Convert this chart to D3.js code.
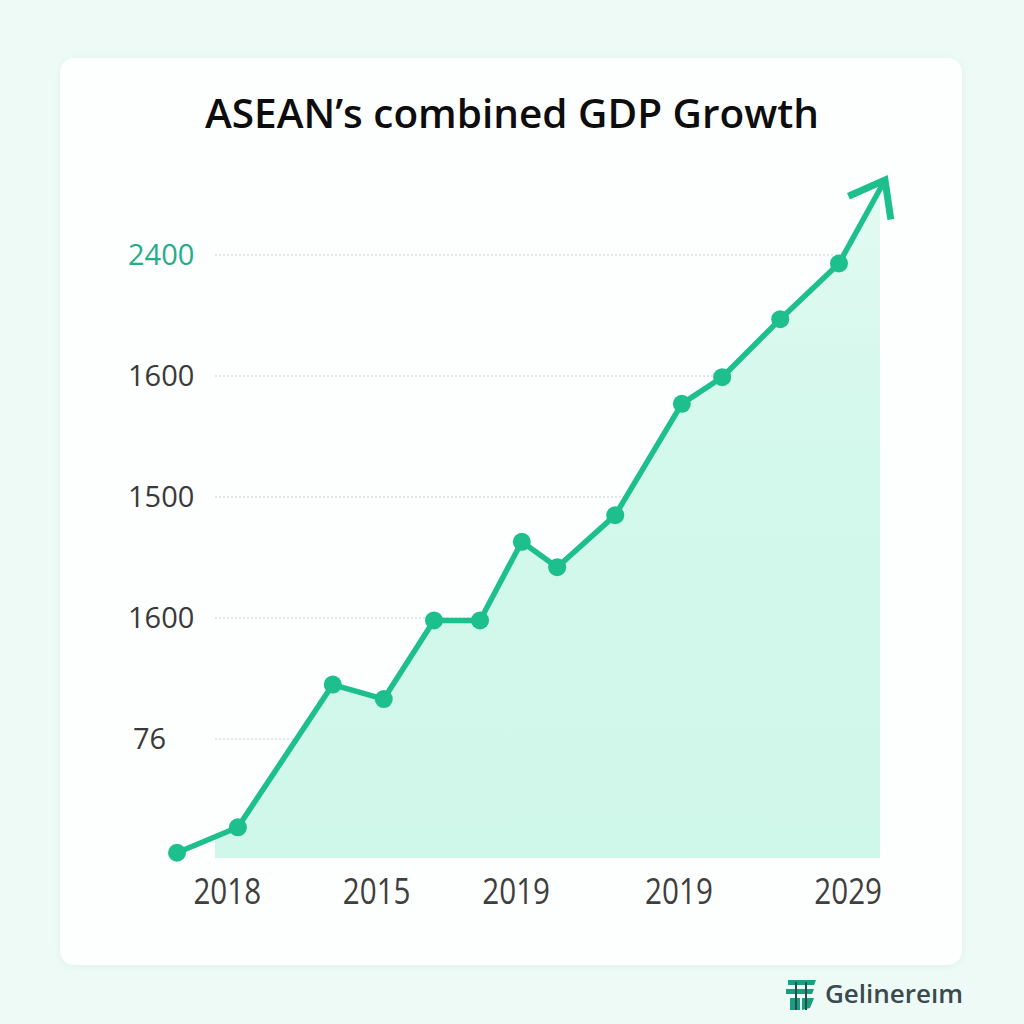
<!DOCTYPE html>
<html><head><meta charset="utf-8">
<script src="https://cdn.jsdelivr.net/npm/d3@7"></script>
<style>
html,body{margin:0;padding:0;background:#eefaf5;}
svg{display:block;}
</style></head>
<body>
<svg id="chart" width="1024" height="1024"></svg>
<script>
// ---- data ----
const title = "ASEAN\u2019s combined GDP Growth";
const pointPos = [0, 8.6, 22.0, 29.2, 36.3, 42.8, 48.7, 53.7, 61.9, 71.3, 77.0, 85.2, 93.5];
const gdpValues = [30, 135, 725, 665, 990, 990, 1315, 1210, 1425, 1885, 1995, 2235, 2465];
const arrowEnd = {pos: 100, value: 2810};
const yTickValues = [500, 1000, 1500, 2000, 2500];
const yTickLabels = ["76", "1600", "1500", "1600", "2400"];
const xTickPos = [7.1, 28.2, 47.9, 70.9, 94.8];
const xTickLabels = ["2018", "2015", "2019", "2019", "2029"];
const brand = "Gelinere\u0131m";

// ---- setup ----
const svg = d3.select("#chart");
const x = d3.scaleLinear().domain([0, 100]).range([177, 885]);
const y = d3.scaleLinear().domain([0, 2500]).range([860, 255]);
const green = "#1dbf8c";

const defs = svg.append("defs");
const grad = defs.append("linearGradient").attr("id", "ag").attr("x1", 0).attr("y1", 0).attr("x2", 0).attr("y2", 1);
grad.append("stop").attr("offset", "0%").attr("stop-color", "#e2faf2");
grad.append("stop").attr("offset", "40%").attr("stop-color", "#d3f8ec");
grad.append("stop").attr("offset", "100%").attr("stop-color", "#cff7ea");
defs.append("clipPath").attr("id", "clipA").append("rect")
  .attr("x", 215).attr("y", 0).attr("width", 880 - 215).attr("height", 858);
const flt = defs.append("filter").attr("id", "sh").attr("x", "-5%").attr("y", "-5%").attr("width", "110%").attr("height", "110%");
flt.append("feDropShadow").attr("dx", 0).attr("dy", 1).attr("stdDeviation", 3).attr("flood-color", "#9fd9c2").attr("flood-opacity", 0.25);

// card
svg.append("rect").attr("x", 60).attr("y", 58).attr("width", 902).attr("height", 907)
  .attr("rx", 14).attr("fill", "#fdfefe").attr("filter", "url(#sh)");

// title
svg.append("text").attr("x", 512).attr("y", 128).attr("text-anchor", "middle")
  .attr("font-family", "'Open Sans', sans-serif").attr("font-size", 40.5).attr("font-weight", 600)
  .attr("fill", "#0d0d0d").text(title);

// gridlines
svg.append("g").selectAll("line").data(yTickValues).join("line")
  .attr("x1", 215).attr("x2", 880)
  .attr("y1", d => y(d)).attr("y2", d => y(d))
  .attr("stroke", "#c9cfcd").attr("stroke-width", 1).attr("stroke-dasharray", "2,2");

// y labels
svg.append("g").selectAll("text").data(yTickValues).join("text")
  .attr("x", (d, i) => i === 0 ? 133 : 128).attr("y", d => y(d) + 10)
  .attr("font-family", "'Open Sans', sans-serif").attr("font-size", 29)
  .attr("fill", (d, i) => i === yTickValues.length - 1 ? "#25ad88" : "#3a3a3a")
  .text((d, i) => yTickLabels[i]);

// area
const pts = pointPos.map((p, i) => ({pos: p, value: gdpValues[i]})).concat([arrowEnd]);
const area = d3.area().x(d => x(d.pos)).y0(858).y1(d => y(d.value));
svg.append("path").datum(pts).attr("d", area).attr("fill", "url(#ag)").attr("clip-path", "url(#clipA)");

// line
const line = d3.line().x(d => x(d.pos)).y(d => y(d.value));
svg.append("path").datum(pts).attr("d", line).attr("fill", "none")
  .attr("stroke", green).attr("stroke-width", 5.5).attr("stroke-linejoin", "round");

// arrow head
const last = pts[pts.length - 2];
const ex = x(arrowEnd.pos), ey = y(arrowEnd.value);
const ang = Math.atan2(ey - y(last.value), ex - x(last.pos));
const L = 40, spread = 0.65;
const a1 = [ex - L * Math.cos(ang - spread), ey - L * Math.sin(ang - spread)];
const a2 = [ex - L * Math.cos(ang + spread), ey - L * Math.sin(ang + spread)];
svg.append("path").attr("d", `M${a1[0]},${a1[1]}L${ex},${ey}L${a2[0]},${a2[1]}`)
  .attr("fill", "none").attr("stroke", green).attr("stroke-width", 7)
  .attr("stroke-linejoin", "miter").attr("stroke-linecap", "butt");

// points
svg.append("g").selectAll("circle").data(pts.slice(0, -1)).join("circle")
  .attr("cx", d => x(d.pos)).attr("cy", d => y(d.value)).attr("r", 9).attr("fill", green);

// x labels (condensed look)
svg.append("g").selectAll("text").data(xTickPos).join("text")
  .attr("transform", d => `translate(${x(d)},904) scale(0.8,1)`)
  .attr("text-anchor", "middle")
  .attr("font-family", "'Open Sans', sans-serif")
  .attr("font-size", 37).attr("fill", "#3f3f3f")
  .text((d, i) => xTickLabels[i]);

// brand logo
const lg = svg.append("g").attr("transform", "translate(786,978)");
lg.append("path").attr("d", "M2,2 H30 L28,7 H2 Z M0,11 H28 L26,16 H0 Z M4,20 H14 V32 H4 Z M16,20 H28 L24,30 L16,32 Z")
  .attr("fill", "#1a9e80");
lg.append("path").attr("d", "M10,4 V32 M20,4 V32").attr("stroke", "#2b4a4a").attr("stroke-width", 2);
svg.append("text").attr("x", 825).attr("y", 1003)
  .attr("font-family", "'Open Sans', sans-serif").attr("font-size", 26).attr("font-weight", 600)
  .attr("fill", "#3a4a50").text(brand);
</script>
</body></html>
